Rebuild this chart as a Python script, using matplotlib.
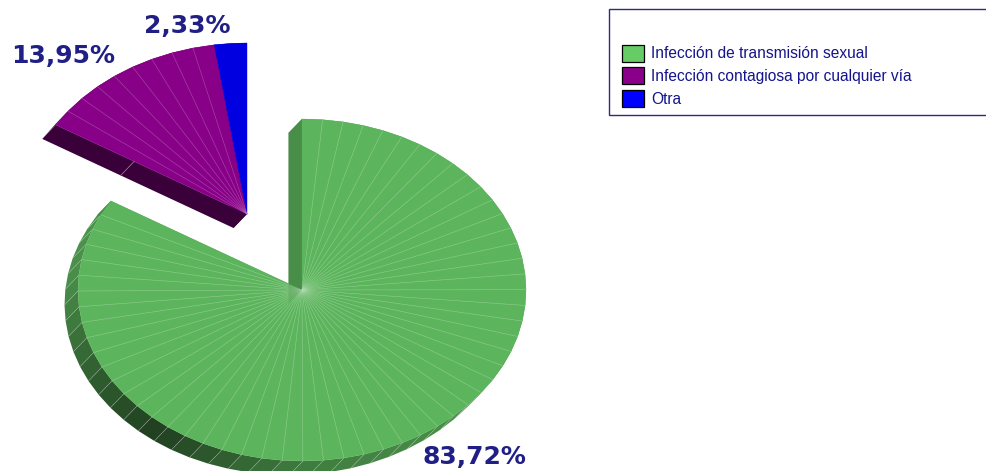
import numpy as np
import matplotlib
matplotlib.use("Agg")
import matplotlib.pyplot as plt
from matplotlib.patches import Polygon, Rectangle

# Values
CATEGORIES = ["Infección de transmisión sexual", "Infección contagiosa por cualquier vía", "Otra"]
SHARES = [83.72, 13.95, 2.33]
PCT_LABELS = ["83,72%", "13,95%", "2,33%"]

TOP_COLORS = ["#5cb55c", "#880088", "#0000e0"]
LEGEND_COLORS = ["#66cc66", "#8b008b", "#0000ff"]
LINE_COLORS = ["#b5dcb5", "#c080c0", "#0000e0"]
WALL_SHADE = [0.78, 0.42, 0.42]
CENTERS = [(302, 290), (247, 214), (247, 214)]
LABEL_POS = [(423, 457), (11, 56), (144, 26)]
LEGEND_Y = [54, 76, 99]

RX, RY = 224, 171
DEPTH_X, DEPTH_Y = -13.5, 14
FACET_DEG = 5.3
TEXT_COLOR = "#1f1f85"
LEGEND_TEXT = "#14148c"


def rim_point(center, deg):
    # angle is clockwise from 12 o'clock, y axis points down
    a = np.radians(deg)
    return center[0] + RX * np.sin(a), center[1] - RY * np.cos(a)


def shade(color, factor):
    rgb = np.array(matplotlib.colors.to_rgb(color))
    return tuple(rgb * factor)


def rim_shade(deg):
    # green rim gets darker towards the lower left
    return np.interp(deg, [130, 180, 218, 250, 275, 310], [0.8, 0.68, 0.35, 0.57, 0.78, 0.85])


def draw_slice(ax, idx, start, span):
    center = CENTERS[idx]
    color = TOP_COLORS[idx]
    n = max(1, round(span / FACET_DEG))
    angles = np.linspace(start, start + span, n + 1)
    rim = [rim_point(center, d) for d in angles]
    low = (center[0] + DEPTH_X, center[1] + DEPTH_Y)

    def drop(p):
        return p[0] + DEPTH_X, p[1] + DEPTH_Y

    # outer side, one quad per facet
    for i in range(n):
        mid = (angles[i] + angles[i + 1]) / 2
        factor = rim_shade(mid) if idx == 0 else WALL_SHADE[idx]
        quad = [rim[i], rim[i + 1], drop(rim[i + 1]), drop(rim[i])]
        ax.add_patch(Polygon(quad, closed=True, fc=shade(color, factor), ec="none", zorder=2))
        if idx == 0:
            ax.plot(*zip(rim[i], drop(rim[i])), color=shade("#ffffff", 0.75), lw=0.4, alpha=0.5, zorder=2.1)

    # flat walls at both cut edges, the blue one stays hidden behind the purple
    walls = [[center, rim[0], drop(rim[0]), low], [center, rim[-1], drop(rim[-1]), low]]
    if idx != 2:
        for wall in walls:
            ax.add_patch(Polygon(wall, closed=True, fc=shade(color, WALL_SHADE[idx]), ec="none", zorder=2.2))

    # top face
    ax.add_patch(Polygon([center] + rim, closed=True, fc=color, ec=color, lw=0.3, zorder=3))
    if idx != 2:
        for p in rim[1:-1]:
            ax.plot(*zip(center, p), color=LINE_COLORS[idx], lw=0.4, alpha=0.6, zorder=3.1)
    if idx == 0:
        ax.add_patch(Polygon(walls[0], closed=True, fc=shade(color, WALL_SHADE[idx]), ec="none", alpha=0.3, zorder=3.2))
    if idx == 1:
        # single light seam on the dark wall
        seam = (center[0] + (rim[0][0] - center[0]) * 0.59, center[1] + (rim[0][1] - center[1]) * 0.59)
        ax.plot(*zip(seam, drop(seam)), color="#b080b0", lw=0.5, zorder=3.1)


fig = plt.figure(figsize=(9.86, 4.71), dpi=100)
ax = fig.add_axes([0, 0, 1, 1])
ax.set_xlim(0, 986)
ax.set_ylim(471, 0)
ax.axis("off")

start = 0.0
for i, share in enumerate(SHARES):
    span = share * 3.6
    draw_slice(ax, i, start, span)
    start += span

for label, (x, y) in zip(PCT_LABELS, LABEL_POS):
    ax.text(x, y, label, color=TEXT_COLOR, fontsize=18, fontweight="bold", family="DejaVu Sans",
            ha="left", va="center", zorder=5)

# Legend box runs off the right edge
ax.add_patch(Rectangle((609, 9), 400, 106, fc="white", ec="#2a2a80", lw=1.0, zorder=4, clip_on=True))
for name, col, y in zip(CATEGORIES, LEGEND_COLORS, LEGEND_Y):
    ax.add_patch(Rectangle((621.5, y - 9.5), 22, 17.5, fc=col, ec="black", lw=0.9, zorder=5))
    ax.text(651, y, name, color=LEGEND_TEXT, fontsize=11.2, family="Liberation Sans",
            ha="left", va="center", zorder=5)

fig.savefig("out.png", dpi=100)
